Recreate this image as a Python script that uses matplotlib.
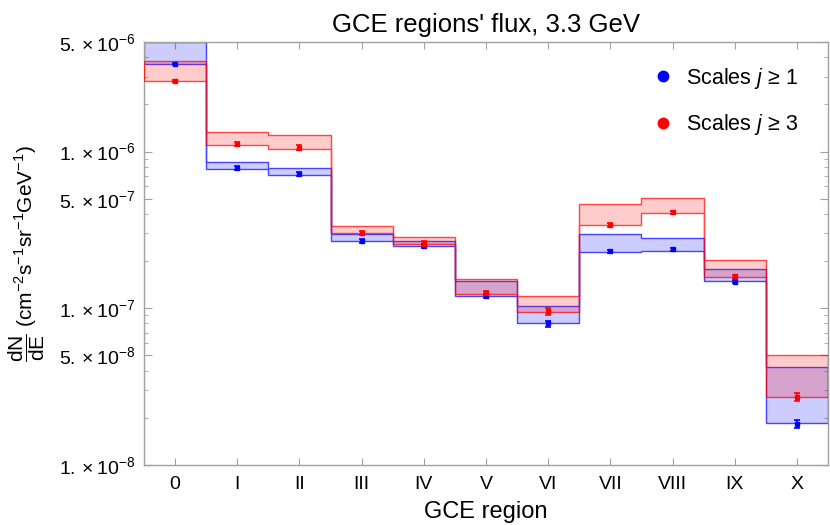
import numpy as np
import matplotlib
matplotlib.use("Agg")
import matplotlib.pyplot as plt
from matplotlib.lines import Line2D
from matplotlib.ticker import LogLocator, NullFormatter

plt.rcParams['font.family'] = ['Liberation Sans', 'DejaVu Sans']
plt.rcParams['mathtext.fontset'] = 'custom'
plt.rcParams['mathtext.rm'] = 'Liberation Sans'
plt.rcParams['mathtext.it'] = 'Liberation Sans:italic'
plt.rcParams['mathtext.bf'] = 'Liberation Sans:bold'

regions = ["0", "I", "II", "III", "IV", "V", "VI", "VII", "VIII", "IX", "X"]

# band limits (j >= 1, blue)
blue_upper = [5.0e-6, 0.860e-6, 0.788e-6, 2.98e-7, 2.70e-7, 1.49e-7, 1.04e-7, 2.96e-7, 2.80e-7, 1.77e-7, 4.23e-8]
blue_lower = [3.60e-6, 0.771e-6, 0.711e-6, 2.70e-7, 2.51e-7, 1.19e-7, 0.80e-7, 2.30e-7, 2.33e-7, 1.49e-7, 1.85e-8]
# band limits (j >= 3, red)
red_upper = [3.78e-6, 1.335e-6, 1.278e-6, 3.36e-7, 2.85e-7, 1.54e-7, 1.19e-7, 4.64e-7, 5.07e-7, 2.02e-7, 5.07e-8]
red_lower = [2.82e-6, 1.108e-6, 1.045e-6, 3.01e-7, 2.58e-7, 1.24e-7, 0.953e-7, 3.39e-7, 4.03e-7, 1.59e-7, 2.70e-8]

# point estimates and errors
blue_pts = [3.60e-6, 0.783e-6, 0.721e-6, 2.68e-7, 2.49e-7, 1.20e-7, 0.80e-7, 2.31e-7, 2.38e-7, 1.48e-7, 1.82e-8]
blue_err = [0.05e-6, 0.025e-6, 0.022e-6, 0.09e-7, 0.08e-7, 0.04e-7, 0.035e-7, 0.06e-7, 0.06e-7, 0.04e-7, 0.11e-8]
red_pts = [2.82e-6, 1.113e-6, 1.060e-6, 3.02e-7, 2.58e-7, 1.25e-7, 0.957e-7, 3.41e-7, 4.09e-7, 1.60e-7, 2.71e-8]
red_err = [0.04e-6, 0.035e-6, 0.033e-6, 0.10e-7, 0.09e-7, 0.045e-7, 0.045e-7, 0.09e-7, 0.10e-7, 0.04e-7, 0.16e-8]

legend_labels = [r"Scales $j$ ≥ 1", r"Scales $j$ ≥ 3"]

fig = plt.figure(figsize=(8.3, 5.25), dpi=100)
ax = fig.add_axes([144/830, 1-465/525, (828-144)/830, (465-42)/525])

x = np.arange(len(regions))
edges = np.arange(len(regions) + 1) - 0.5

blue = (0, 0, 1)
red = (1, 0, 0)

ax.stairs(blue_upper, edges, baseline=blue_lower, fill=True,
          facecolor=(0, 0, 1, 0.2), edgecolor=(0, 0, 1, 0.7), linewidth=1.0, zorder=2)
ax.stairs(red_upper, edges, baseline=red_lower, fill=True,
          facecolor=(1, 0, 0, 0.2), edgecolor=(1, 0, 0, 0.7), linewidth=1.0, zorder=3)

ax.errorbar(x, blue_pts, yerr=blue_err, fmt='s', color=blue, ms=3, capsize=2,
            elinewidth=1.2, capthick=1.2, zorder=4)
ax.errorbar(x, red_pts, yerr=red_err, fmt='s', color=red, ms=3, capsize=2,
            elinewidth=1.2, capthick=1.2, zorder=4)

ax.set_yscale('log')
ax.set_ylim(1e-8, 5e-6)
ax.set_xlim(-0.5, 10.5)

ax.set_xticks(x)
ax.set_xticklabels(regions, fontsize=14)
yt = [1e-8, 5e-8, 1e-7, 5e-7, 1e-6, 5e-6]
ytl = [r"$1.\times10^{-8}$", r"$5.\times10^{-8}$", r"$1.\times10^{-7}$",
       r"$5.\times10^{-7}$", r"$1.\times10^{-6}$", r"$5.\times10^{-6}$"]
ax.set_yticks(yt)
ax.set_yticklabels(ytl, fontsize=14)
ax.yaxis.set_minor_locator(LogLocator(base=10, subs=np.arange(1, 10)))
ax.yaxis.set_minor_formatter(NullFormatter())

gray = '#a0a0a0'
for s in ax.spines.values():
    s.set_color(gray)
    s.set_linewidth(1.0)
ax.tick_params(axis='both', which='both', direction='in', color=gray,
               top=True, right=True)
ax.tick_params(axis='y', which='major', length=6)
ax.tick_params(axis='y', which='minor', length=3)
ax.tick_params(axis='x', which='major', length=5, pad=8)
ax.tick_params(axis='y', which='major', pad=6)

ax.set_title("GCE regions' flux, 3.3 GeV", fontsize=18.5, pad=7)
ax.set_xlabel("GCE region", fontsize=17, labelpad=6)
ax.set_ylabel(r"$\dfrac{\mathrm{dN}}{\mathrm{dE}}$ (cm$^{-2}$s$^{-1}$sr$^{-1}$GeV$^{-1}$)", fontsize=15)
ax.yaxis.set_label_coords(-0.142, 0.5)

handles = [Line2D([], [], marker='o', color=blue, ls='none', ms=7.5),
           Line2D([], [], marker='o', color=red, ls='none', ms=7.5)]
ax.legend(handles, legend_labels, loc='upper right', bbox_to_anchor=(0.985, 0.99),
          frameon=False, fontsize=15.5, handlelength=1.0, handletextpad=0.6,
          labelspacing=1.0)

fig.savefig("out.png", dpi=100)
